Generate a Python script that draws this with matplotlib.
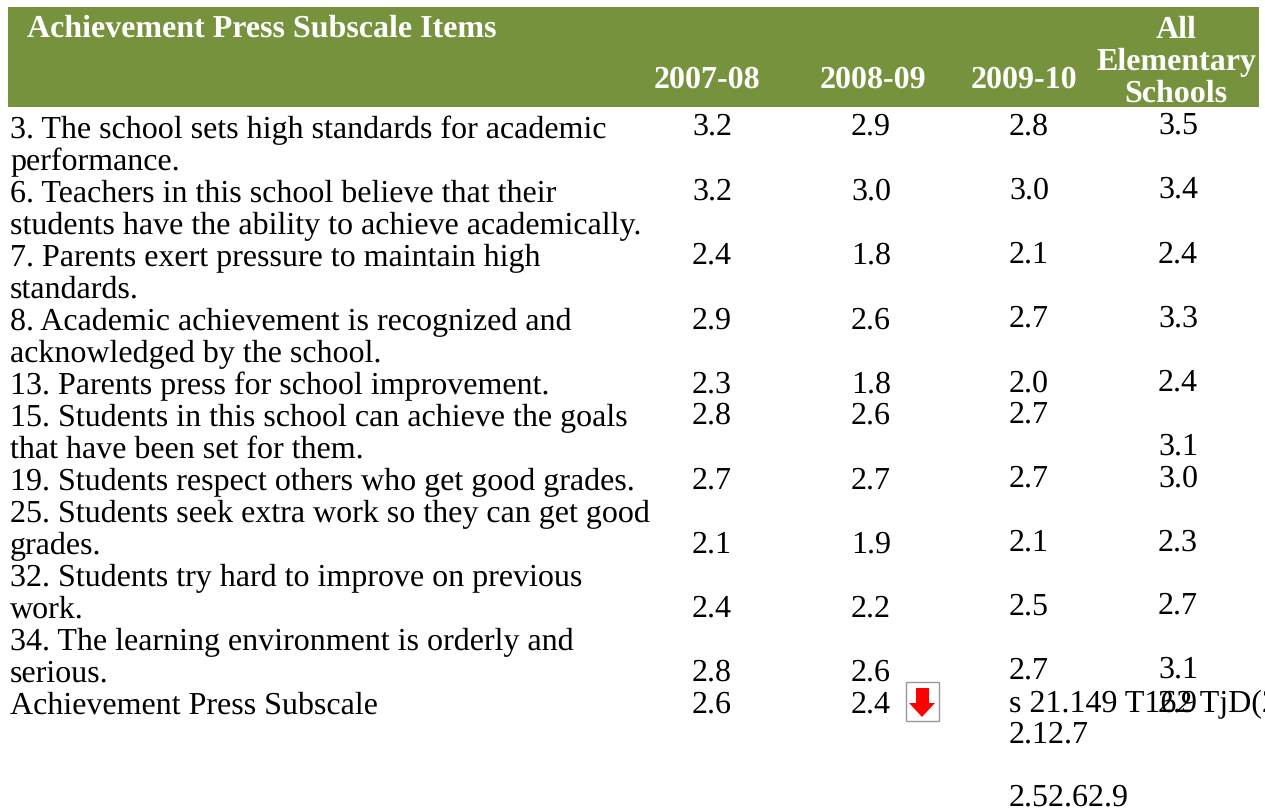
import matplotlib
matplotlib.use('Agg')
import matplotlib.pyplot as plt
from matplotlib.patches import Rectangle, Polygon

plt.rcParams['font.family'] = ['Liberation Serif', 'DejaVu Serif']
plt.rcParams['text.hinting'] = 'no_hinting'

# table contents
title = 'Achievement Press Subscale Items'
years = ['2007-08', '2008-09', '2009-10']
all_schools = ['All', 'Elementary', 'Schools']
items = [
    ['3. The school sets high standards for academic', 'performance.'],
    ['6. Teachers in this school believe that their', 'students have the ability to achieve academically.'],
    ['7. Parents exert pressure to maintain high', 'standards.'],
    ['8. Academic achievement is recognized and', 'acknowledged by the school.'],
    ['13. Parents press for school improvement.'],
    ['15. Students in this school can achieve the goals', 'that have been set for them.'],
    ['19. Students respect others who get good grades.'],
    ['25. Students seek extra work so they can get good', 'grades.'],
    ['32. Students try hard to improve on previous', 'work.'],
    ['34. The learning environment is orderly and', 'serious.'],
    ['Achievement Press Subscale'],
]
y0708 = ['3.2', '3.2', '2.4', '2.9', '2.3', '2.8', '2.7', '2.1', '2.4', '2.8', '2.6']
y0809 = ['2.9', '3.0', '1.8', '2.6', '1.8', '2.6', '2.7', '1.9', '2.2', '2.6', '2.4']
y0910 = ['2.8', '3.0', '2.1', '2.7', '2.0', '2.7', '2.7', '2.1', '2.5', '2.7']
y_all = ['3.5', '3.4', '2.4', '3.3', '2.4', '3.1', '3.0', '2.3', '2.7', '3.1', '2.9']

# stray text that the source page shows under the table
stray = ['s 21.149 T162 TjD(2', '2.12.7', '2.52.62.9']

# layout, in pixels of the picture
GREEN = '#76923c'
SIZE = 23.0
item_base = [138, 202, 266, 330, 394, 426, 490, 522, 586, 650, 714]
base_1 = [135, 200, 264, 329, 393, 424, 489, 553, 617, 681, 713]
base_3 = [135, 199, 263, 327, 392, 423, 487, 551, 615, 679]
base_4 = [134, 198, 263, 327, 391, 455, 487, 551, 614, 678, 712]

# a hair over 8.12 so the canvas does not round down to 811 rows
fig = plt.figure(figsize=(12.6501, 8.1201), dpi=100)
ax = fig.add_axes([0, 0, 1, 1])
ax.set_xlim(0, 1265)
ax.set_ylim(812, 0)
ax.axis('off')

# header band
ax.add_patch(Rectangle((8, 7), 1251, 100, facecolor=GREEN, edgecolor='none'))
ax.text(27, 37, title, color='white', fontsize=23.04, fontweight='bold')
for x, label in zip([654, 820, 971], years):
    ax.text(x, 88, label, color='white', fontsize=23.04, fontweight='bold')
for y, label in zip([38, 70, 102], all_schools):
    ax.text(1176, y, label, color='white', fontsize=23.04, fontweight='bold', ha='center')

# rows, every line placed on its own so the baselines stay on the 32px grid
for y, lines in zip(item_base, items):
    for i, line in enumerate(lines):
        ax.text(10, y + i * 32, line, fontsize=SIZE)
for x, col, bases in [(692, y0708, base_1), (851, y0809, base_1),
                      (1009, y0910, base_3), (1158, y_all, base_4)]:
    for y, val in zip(bases, col):
        ax.text(x, y, val, fontsize=SIZE)

# leftovers below the last row
for y, s in zip([712, 743, 806], stray):
    ax.text(1009, y, s, fontsize=SIZE)

# down arrow icon
ax.add_patch(Rectangle((905.5, 682), 33, 39, facecolor='white', edgecolor='#999999', linewidth=1))
ax.add_patch(Polygon([(916, 688), (929, 688), (929, 703), (935, 703),
                      (922, 717), (909, 703), (916, 703)], facecolor='#ff0000', edgecolor='none'))

plt.savefig('out.png', dpi=100)
